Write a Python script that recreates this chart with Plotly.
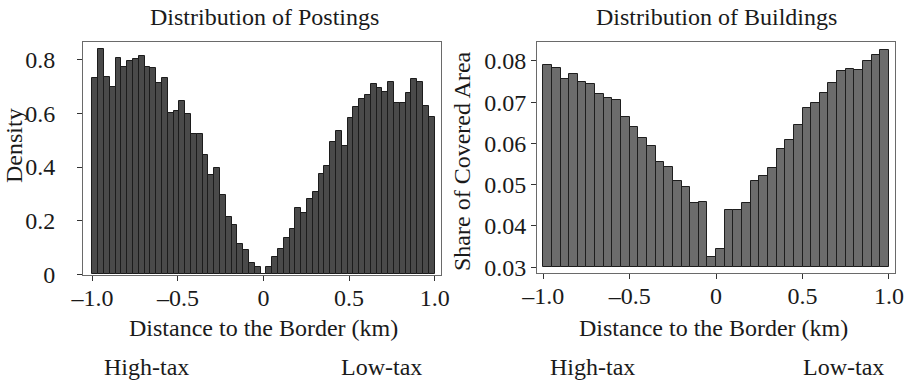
import plotly.graph_objects as go

# ---------------- data ----------------
# Left panel: histogram of postings, 59 equal bins spanning -1..1 km
post_bin_start = -1.0
post_bin_width = 2.0 / 59
post_density = [
    0.734, 0.841, 0.738, 0.700, 0.806, 0.775, 0.796, 0.802, 0.815, 0.775,
    0.771, 0.715, 0.734, 0.601, 0.611, 0.647, 0.598, 0.522, 0.522, 0.445,
    0.370, 0.397, 0.295, 0.214, 0.183, 0.112, 0.092, 0.042, 0.027,
    0.0,
    0.027, 0.065, 0.095, 0.136, 0.169, 0.246, 0.229, 0.282, 0.308, 0.373,
    0.404, 0.495, 0.535, 0.479, 0.584, 0.623, 0.653, 0.669, 0.709, 0.694,
    0.682, 0.717, 0.638, 0.638, 0.678, 0.728, 0.719, 0.628, 0.588,
]

# Right panel: share of covered area, 40 bins of 0.05 km
bld_bin_start = -1.0
bld_bin_width = 0.05
bld_share = [
    0.0791, 0.0784, 0.0757, 0.0769, 0.0748, 0.0744, 0.0721, 0.0710, 0.0706, 0.0665,
    0.0639, 0.0613, 0.0594, 0.0555, 0.0544, 0.0509, 0.0494, 0.0456, 0.0458, 0.0326,
    0.0345, 0.0438, 0.0438, 0.0456, 0.0509, 0.0521, 0.0541, 0.0586, 0.0609, 0.0645,
    0.0686, 0.0699, 0.0722, 0.0746, 0.0775, 0.0781, 0.0779, 0.0799, 0.0815, 0.0827,
]
bld_base = 0.03

x_tickvals = [-1.0, -0.5, 0, 0.5, 1.0]
x_ticktext = ["\u20131.0", "\u20130.5", "0", "0.5", "1.0"]
left_yticks = [0, 0.2, 0.4, 0.6, 0.8]
left_yticktext = ["0", "0.2", "0.4", "0.6", "0.8"]
right_yticks = [0.03, 0.04, 0.05, 0.06, 0.07, 0.08]
right_yticktext = ["0.03", "0.04", "0.05", "0.06", "0.07", "0.08"]

# ---------------- figure ----------------
W, H = 907, 381
FONT = "Liberation Serif"
FS = 24
TXT = "#1a1a1a"

def px_x(p):
    return p / W

def px_y(p):
    return 1 - p / H

fig = go.Figure()
fig.add_trace(go.Bar(
    x0=post_bin_start + post_bin_width / 2, dx=post_bin_width, y=post_density,
    marker=dict(color="#4a4a4a", line=dict(color="#1c1c1c", width=1)),
    xaxis="x", yaxis="y", showlegend=False,
))
fig.add_trace(go.Bar(
    x0=bld_bin_start + bld_bin_width / 2, dx=bld_bin_width,
    y=[v - bld_base for v in bld_share], base=bld_base,
    marker=dict(color="#6c6c6c", line=dict(color="#1e1e1e", width=1)),
    xaxis="x2", yaxis="y2", showlegend=False,
))

axis_common = dict(
    showline=True, mirror=True, linecolor="#6a6a6a", linewidth=1,
    showgrid=False, zeroline=False, ticks="outside", ticklen=5,
    tickcolor="#333333", tickfont=dict(family=FONT, size=FS, color=TXT),
    automargin=False,
)

fig.update_layout(
    width=W, height=H,
    margin=dict(l=0, r=0, t=0, b=0, pad=0, autoexpand=False),
    paper_bgcolor="white", plot_bgcolor="white",
    bargap=0, barmode="overlay",
    font=dict(family=FONT, size=FS, color=TXT),
    xaxis=dict(domain=[px_x(83), px_x(441)], range=[-1.055, 1.037],
               tickvals=x_tickvals, ticktext=x_ticktext, anchor="y",
               ticklabelstandoff=-4, **axis_common),
    yaxis=dict(domain=[px_y(275), px_y(42)], range=[-0.003, 0.867],
               tickvals=left_yticks, ticktext=left_yticktext, anchor="x",
               ticklabelstandoff=17, **axis_common),
    xaxis2=dict(domain=[px_x(537), px_x(895)], range=[-1.036, 1.035],
                tickvals=x_tickvals, ticktext=x_ticktext, anchor="y2",
                ticklabelstandoff=-4, **axis_common),
    yaxis2=dict(domain=[px_y(273), px_y(42)], range=[0.0286, 0.0846],
                tickvals=right_yticks, ticktext=right_yticktext, anchor="x2",
                ticklabelstandoff=0, **axis_common),
)

def note(text, x, y, angle=0):
    fig.add_annotation(text=text, x=px_x(x), y=px_y(y), xref="paper", yref="paper",
                       showarrow=False, xanchor="center", yanchor="middle",
                       textangle=angle, font=dict(family=FONT, size=FS, color=TXT))

note("Distribution of Postings", 264, 17)
note("Distribution of Buildings", 716, 17)
note("Density", 14, 146, -90)
note("Share of Covered Area", 462, 161, -90)
note("Distance to the Border (km)", 263, 328)
note("Distance to the Border (km)", 713, 328)
note("High-tax", 146, 367)
note("Low-tax", 381, 367)
note("High-tax", 592, 367)
note("Low-tax", 843, 367)

fig.write_html("out.html")
